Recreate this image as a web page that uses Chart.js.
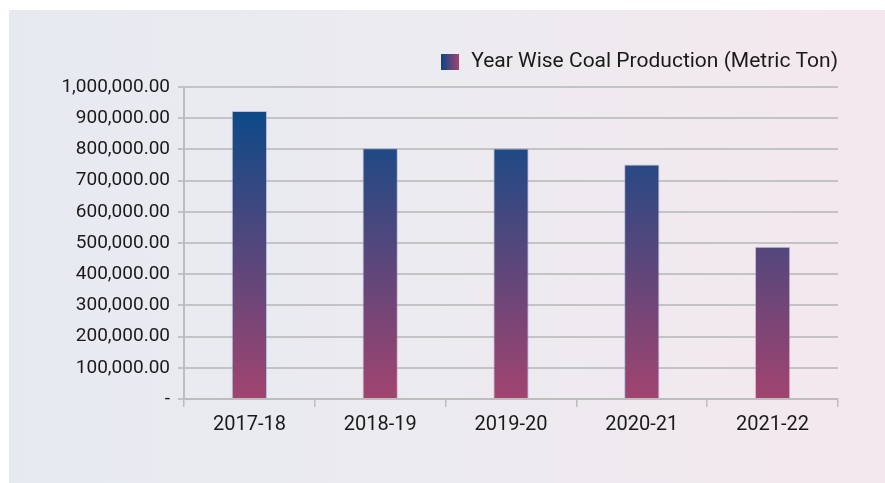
<!DOCTYPE html>
<html>
<head>
<meta charset="utf-8">
<script src="https://cdn.jsdelivr.net/npm/chart.js@4"></script>
<style>
  html, body { margin: 0; padding: 0; background: #ffffff; }
  #panel {
    position: absolute; left: 9px; top: 10px; width: 876px; height: 473px;
    background: linear-gradient(90deg, #e6eaf0 0%, #ecebf0 50%, #f4e8ee 100%);
  }
  canvas { display: block; }
</style>
</head>
<body>
<div id="panel"><canvas id="chart" width="876" height="473"></canvas></div>
<script>
// Year wise coal production
const years = ['2017-18', '2018-19', '2019-20', '2020-21', '2021-22'];
const production = [923000, 804000, 803000, 752000, 488000];
const seriesLabel = 'Year Wise Coal Production (Metric Ton)';

const FONT = 'Roboto, "DejaVu Sans", sans-serif';

/**
 * Vertical gradient for the bars, spanning the plot area
 */
function barGradient(context) {
  const area = context.chart.chartArea;
  if (!area) return '#4a477d';
  const g = context.chart.ctx.createLinearGradient(0, area.top, 0, area.bottom);
  g.addColorStop(0, '#004a8a');
  g.addColorStop(1, '#a2446f');
  return g;
}

/**
 * Small legend swatch with a horizontal gradient
 */
function legendSwatch() {
  const c = document.createElement('canvas');
  c.width = 18; c.height = 16;
  const x = c.getContext('2d');
  const g = x.createLinearGradient(0, 0, 18, 0);
  g.addColorStop(0, '#0b4685');
  g.addColorStop(1, '#a2446f');
  x.fillStyle = g;
  x.fillRect(0, 0, 18, 16);
  return c;
}

const swatch = legendSwatch();

// extra space between legend and plot area
const legendGap = {
  id: 'legendGap',
  beforeUpdate(chart) {
    const legend = chart.legend;
    if (!legend || legend._gapped) return;
    const fit = legend.fit;
    legend.fit = function () {
      fit.call(this);
      this.height += 5;
    };
    legend._gapped = true;
  }
};

new Chart(document.getElementById('chart'), {
  type: 'bar',
  data: {
    labels: years,
    datasets: [{
      label: seriesLabel,
      data: production,
      backgroundColor: barGradient,
      borderColor: 'rgba(150, 160, 210, 0.55)',
      borderWidth: 1,
      borderSkipped: 'bottom',
      categoryPercentage: 1,
      barPercentage: 0.27
    }]
  },
  options: {
    responsive: false,
    animation: false,
    layout: { padding: { left: 0, right: 47, top: 41, bottom: 0 } },
    plugins: {
      tooltip: { enabled: false },
      legend: {
        align: 'end',
        labels: {
          usePointStyle: true,
          pointStyle: swatch,
          color: '#1a1a1a',
          font: { family: FONT, size: 21 },
          padding: 0
        },
        onClick: null
      }
    },
    scales: {
      x: {
        grid: { drawOnChartArea: false, drawTicks: true, tickLength: 8, color: '#bdbdbd', lineWidth: 1.5 },
        border: { color: '#bdbdbd', width: 2 },
        ticks: { color: '#1a1a1a', font: { family: FONT, size: 20 }, padding: 6 },
        afterFit: (scale) => { scale.height = 84; }
      },
      y: {
        min: 0,
        max: 1000000,
        grid: { color: '#c3c3c6', lineWidth: 2, tickLength: 6 },
        border: { color: '#bdbdbd', width: 2 },
        ticks: {
          stepSize: 100000,
          color: '#1a1a1a',
          font: { family: FONT, size: 19 },
          padding: 8,
          callback: (v) => v === 0 ? '-' : v.toLocaleString('en-US', { minimumFractionDigits: 2, maximumFractionDigits: 2 })
        },
        afterFit: (scale) => { scale.width = 175; }
      }
    }
  },
  plugins: [legendGap]
});
</script>
</body>
</html>
